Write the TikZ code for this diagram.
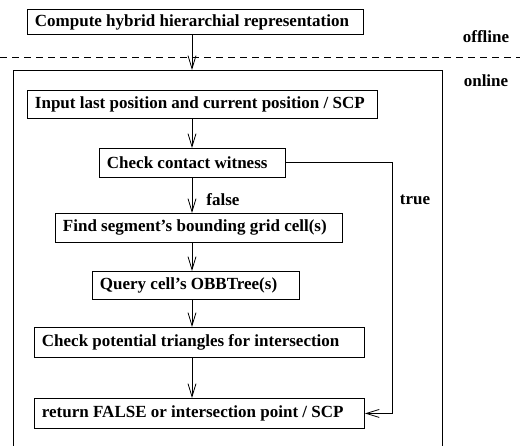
\documentclass[tikz,border=0pt]{standalone}
\usepackage{fontspec}
\setmainfont{Liberation Serif}
\usetikzlibrary{arrows.meta}
\newcommand{\boxtext}[2]{\makebox[#1pt][l]{#2}}
\begin{document}
\begin{tikzpicture}[x=1pt,y=-1pt,
  line width=0.9pt,
  every node/.style={font=\fontsize{17}{20}\selectfont\bfseries},
  stepbox/.style={draw, anchor=north west, inner xsep=7.5pt, inner ysep=0pt},
  arr/.style={-{Straight Barb[length=13pt,width=8pt,line width=0.8pt]}},
  lbl/.style={inner sep=0pt}]
\useasboundingbox (0,0) rectangle (520,446);
% offline / online separator and frame
\draw[dash pattern=on 7pt off 5pt] (0,57) -- (520,57);
\draw (13,446) -- (13,70) -- (442,70) -- (442,446);
\coordinate (ax) at (192,0);
\coordinate (ftop) at (192,70);
\node[lbl] (off) at (486,37) {offline};
\node[lbl] (on) at (486,81) {online};
% boxes
\node[stepbox, minimum height=25pt] (b1) at (27,9) {\boxtext{321}{Compute hybrid hierarchial representation}};
\node[stepbox, minimum height=28pt] (b2) at (27,90) {\boxtext{335}{Input last position and current position / SCP}};
\node[stepbox, minimum height=29pt] (b3) at (99,148) {\boxtext{171}{Check contact witness}};
\node[stepbox, minimum height=29pt] (b4) at (55,213) {\boxtext{272}{Find segment's bounding grid cell(s)}};
\node[stepbox, minimum height=28pt] (b5) at (92,271) {\boxtext{192}{Query cell's OBBTree(s)}};
\node[stepbox, minimum height=30pt] (b6) at (34,327) {\boxtext{315}{Check potential triangles for intersection}};
\node[stepbox, minimum height=30pt] (b7) at (34,398) {\boxtext{315}{return FALSE or intersection point / SCP}};
% connectors
\draw[arr] (b1.south -| ax) -- (ftop);
\draw[arr] (b2.south -| ax) -- (b3.north -| ax);
\draw[arr] (b3.south -| ax) -- (b4.north -| ax);
\draw[arr] (b4.south -| ax) -- (b5.north -| ax);
\draw[arr] (b5.south -| ax) -- (b6.north -| ax);
\draw[arr] (b6.south -| ax) -- (b7.north -| ax);
\coordinate (tr) at (392,0);
\draw[arr] (b3.east) -- (b3.east -| tr) -- (b7.east -| tr) -- (b7.east);
\node[lbl] (fl) at (223,200) {false};
\node[lbl] (tl) at (415,200) {true};
\end{tikzpicture}
\end{document}
